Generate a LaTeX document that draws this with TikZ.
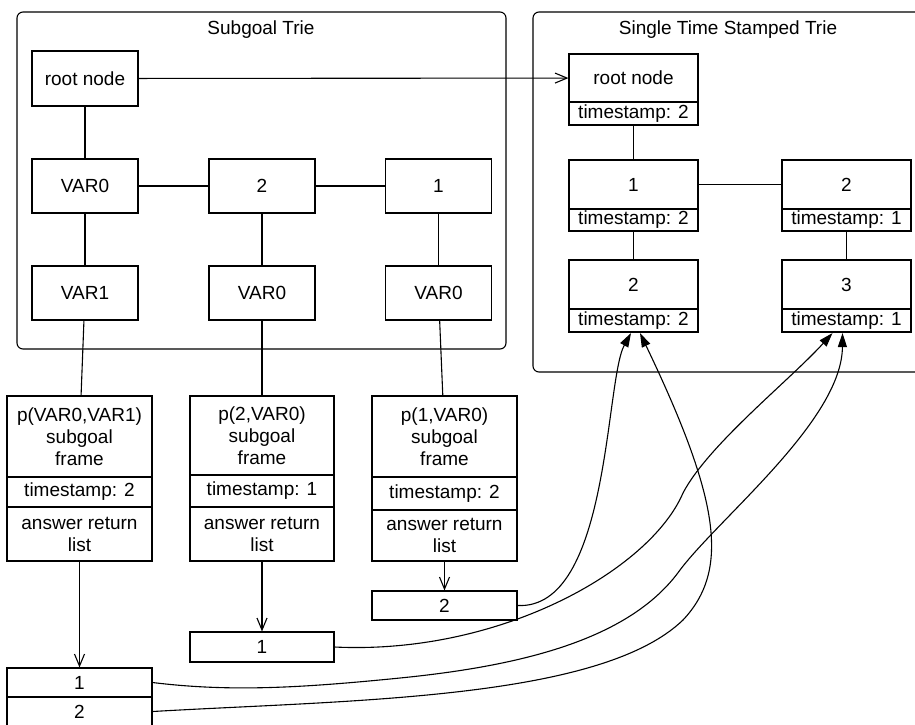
\documentclass[tikz,border=0pt]{standalone}
\usepackage{fontspec}
\setmainfont{Liberation Sans}
\usetikzlibrary{arrows.meta,calc}
\begin{document}
\begin{tikzpicture}[x=1pt,y=-1pt,line width=1.1pt,
  cell/.style 2 args={draw, inner sep=0pt, minimum width=#1, minimum height=#2,
    align=center, font=\fontsize{19}{22}\selectfont},
  title/.style={inner sep=0pt, font=\fontsize{19}{22}\selectfont},
  container/.style={draw, rounded corners=6pt},
  openarr/.style={-{Straight Barb[length=12pt,width=10pt]}},
  fillarr/.style={-{Triangle[length=14pt,width=9pt]}}]
\useasboundingbox (0,0) rectangle (915,724);

% containers
\draw[container] (17,12) rectangle (506,349);
\draw[container] (533,12) rectangle (945,372);
\node[title] (t1title) at (261,30) {Subgoal Trie};
\node[title] (t2title) at (728,30) {Single Time Stamped Trie};

% subgoal trie
\node[cell={106pt}{55pt}] (sroot) at (85,78.5) {root node};
\node[cell={106pt}{54pt}] (sv0) at (85,186) {VAR0};
\node[cell={106pt}{54pt}] (s2) at (262,186) {2};
\node[cell={106pt}{54pt}] (s1) at (438.5,186) {1};
\node[cell={106pt}{54pt}] (sv1) at (85,293) {VAR1};
\node[cell={106pt}{54pt}] (sv0b) at (262,293) {VAR0};
\node[cell={106pt}{54pt}] (sv0c) at (438.5,293) {VAR0};

\draw (sroot) -- (sv0);
\draw (sv0) -- (s2);
\draw (s2) -- (s1);
\draw (sv0) -- (sv1);
\draw (s2) -- (sv0b);
\draw (s1) -- (sv0c);

% time stamped trie
\node[cell={129pt}{48pt}] (troot) at (633.5,78) {root node};
\node[cell={129pt}{23pt}] (trootts) at (633.5,113.5) {timestamp: 2};
\node[cell={129pt}{49pt}] (ta) at (633.5,184.5) {1};
\node[cell={129pt}{22pt}] (tats) at (633.5,220) {timestamp: 2};
\node[cell={129pt}{49pt}] (tb) at (846.5,184.5) {2};
\node[cell={129pt}{22pt}] (tbts) at (846.5,220) {timestamp: 1};
\node[cell={129pt}{49pt}] (tc) at (633.5,284.5) {2};
\node[cell={129pt}{23pt}] (tcts) at (633.5,320.5) {timestamp: 2};
\node[cell={129pt}{49pt}] (td) at (846.5,284.5) {3};
\node[cell={129pt}{23pt}] (tdts) at (846.5,320.5) {timestamp: 1};

\draw (trootts) -- (ta);
\draw (ta) -- (tb);
\draw (tats) -- (tc);
\draw (tbts) -- (td);

\draw[openarr] (sroot) -- (troot);

% subgoal frames
\node[cell={145pt}{81pt}] (f1a) at (79.5,436.5) {p(VAR0,VAR1)\\subgoal\\frame};
\node[cell={145pt}{30pt}] (f1b) at (79.5,492) {timestamp: 2};
\node[cell={145pt}{54pt}] (f1c) at (79.5,534) {answer return\\list};

\node[cell={144pt}{79pt}] (f2a) at (262,435.5) {p(2,VAR0)\\subgoal\\frame};
\node[cell={144pt}{32pt}] (f2b) at (262,491) {timestamp: 1};
\node[cell={144pt}{54pt}] (f2c) at (262,534) {answer return\\list};

\node[cell={145pt}{81pt}] (f3a) at (444.5,436.5) {p(1,VAR0)\\subgoal\\frame};
\node[cell={145pt}{33pt}] (f3b) at (444.5,493.5) {timestamp: 2};
\node[cell={145pt}{51pt}] (f3c) at (444.5,535.5) {answer return\\list};

\draw (sv1) -- (f1a);
\draw (sv0b) -- (f2a);
\draw (sv0c) -- (f3a);

% answer lists
\node[cell={145pt}{29pt}] (l3) at (444.5,605.5) {2};
\node[cell={144pt}{30pt}] (l2) at (262,647) {1};
\node[cell={145pt}{29pt}] (l1a) at (79.5,682.5) {1};
\node[cell={145pt}{29pt}] (l1b) at (79.5,711.5) {2};

\draw[openarr] (f1c) -- (l1a);
\draw[openarr] (f2c) -- (l2);
\draw[openarr] (f3c) -- (l3);

% answer pointers
\coordinate (pA) at ($(tcts.south)+(-2.5,0.5)$);
\coordinate (pD) at ($(tcts.south)+(6.5,0.5)$);
\coordinate (pB) at ($(tdts.south)+(-14,0.5)$);
\coordinate (pC) at ($(tdts.south)+(-4,0.5)$);

\draw[fillarr] (l3.east) .. controls (610,610) and (605,380) .. (pA);
\draw[fillarr] (l2.east) .. controls (500,655) and (650,570) .. (683,493)
  .. controls (708,445) and (790,380) .. (pB);
\draw[fillarr] (l1a.east) .. controls (230,692) and (300,688) .. (400,678)
  .. controls (520,666) and (630,640) .. (680,570)
  .. controls (720,517) and (842,420) .. (pC);
\draw[fillarr] (l1b.east) .. controls (350,700) and (600,700) .. (683,620)
  .. controls (730,570) and (720,500) .. (pD);
\end{tikzpicture}
\end{document}
